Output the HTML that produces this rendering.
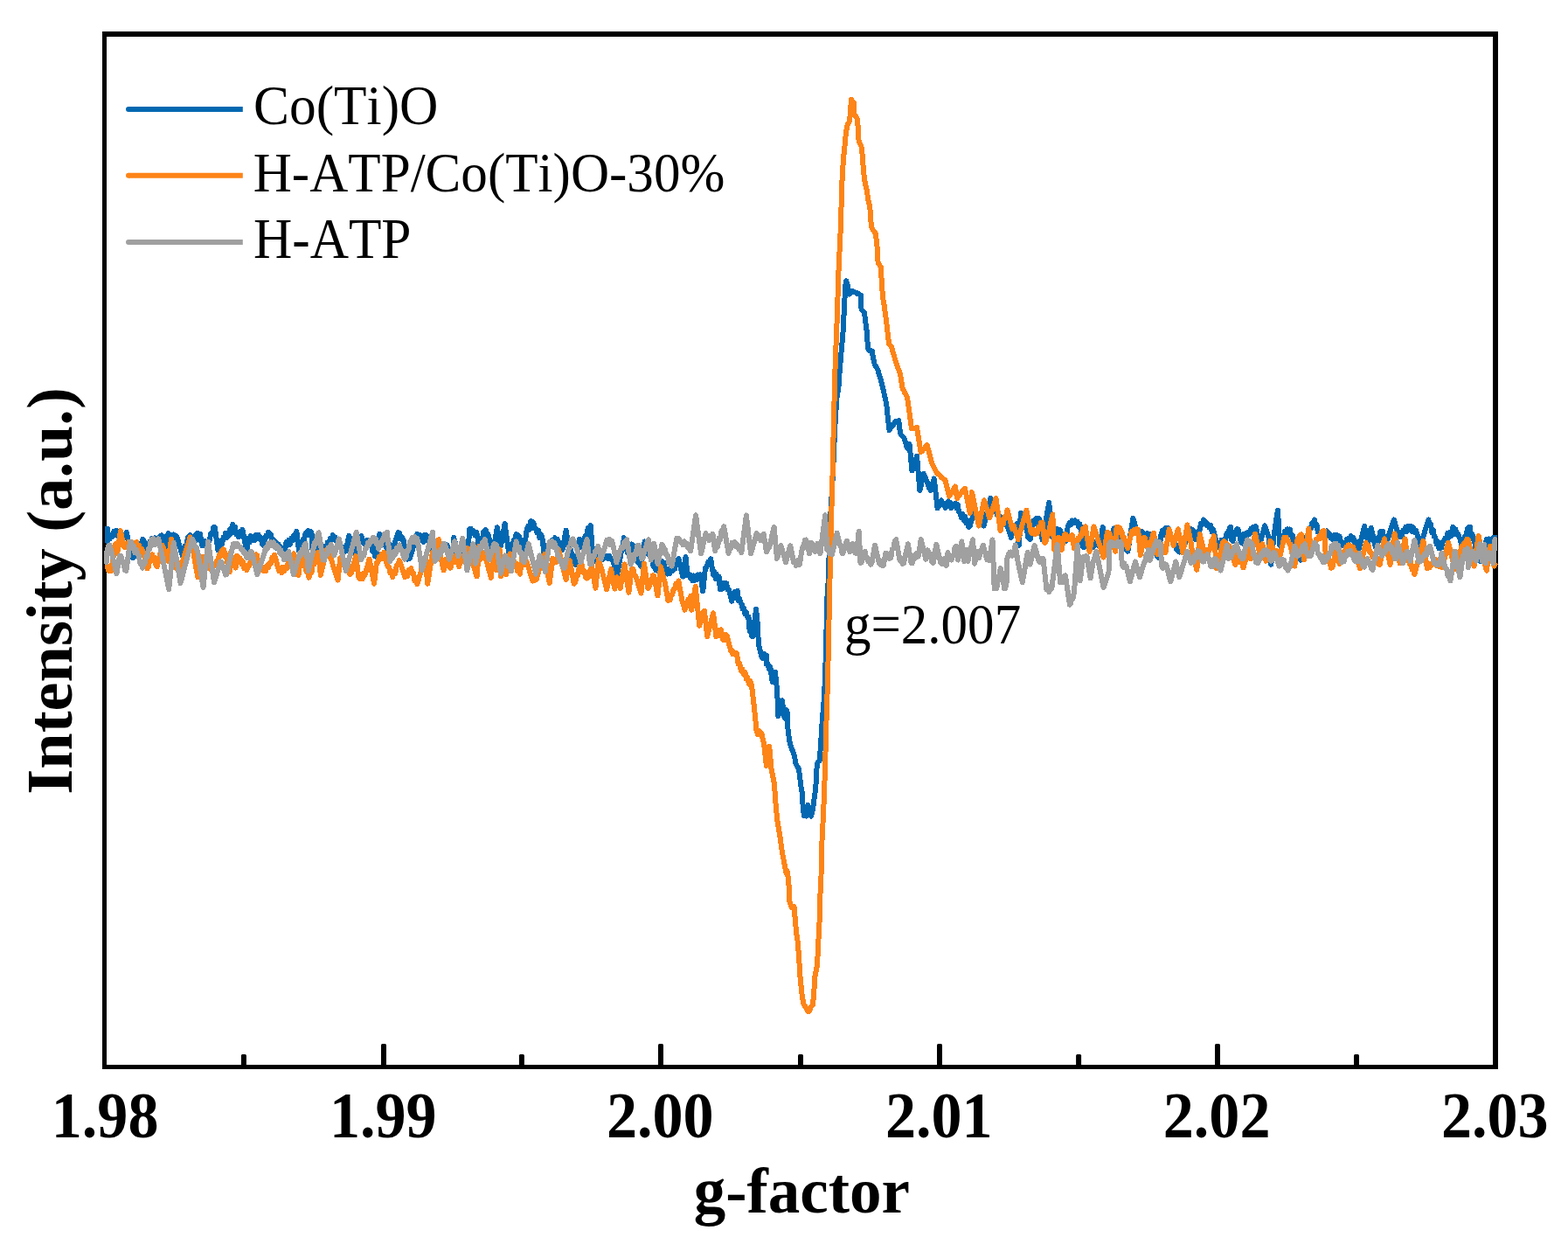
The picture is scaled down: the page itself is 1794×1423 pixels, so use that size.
<!DOCTYPE html>
<html><head><meta charset="utf-8"><style>
html,body{margin:0;padding:0;background:#fff;overflow:hidden}
svg{display:block}
text{font-family:"Liberation Serif","Times New Roman",serif;font-kerning:none;fill:#000}
</style></head><body>
<svg width="1794" height="1423" viewBox="0 0 1794 1423"><rect x="117" y="36" width="1597" height="6"/>
<rect x="117" y="1218" width="1597" height="5"/>
<rect x="117" y="36" width="5" height="1187"/>
<rect x="1708" y="36" width="6" height="1187"/>
<rect x="275.9" y="1206" width="6" height="14" rx="1.5"/>
<rect x="436.0" y="1194" width="6" height="26" rx="1.5"/>
<rect x="593.9" y="1206" width="6" height="14" rx="1.5"/>
<rect x="753.0" y="1194" width="6" height="26" rx="1.5"/>
<rect x="913.0" y="1206" width="6" height="14" rx="1.5"/>
<rect x="1072.0" y="1194" width="6" height="26" rx="1.5"/>
<rect x="1231.1" y="1206" width="6" height="14" rx="1.5"/>
<rect x="1390.0" y="1194" width="6" height="26" rx="1.5"/>
<rect x="1549.0" y="1206" width="6" height="14" rx="1.5"/>
<path d="M122.8 604.5 L123.2 619.0 L124.5 614.6 L125.8 616.2 L127.1 612.3 L128.6 614.1 L130.1 608.1 L131.6 610.9 L133.1 606.7 L134.4 612.2 L135.7 611.7 L137.1 618.9 L138.4 619.4 L140.0 618.0 L141.5 611.6 L143.1 612.9 L144.7 608.8 L147.5 622.2 L151.7 638.3 L153.1 637.2 L154.5 630.6 L155.9 634.1 L157.4 627.8 L158.8 627.6 L160.3 622.4 L161.8 625.6 L163.3 616.7 L164.7 619.0 L166.0 620.8 L167.2 628.5 L168.6 623.5 L170.0 627.4 L171.4 619.3 L172.8 621.9 L174.2 615.5 L175.6 618.3 L177.0 615.4 L178.4 619.4 L179.8 616.5 L181.2 619.4 L182.5 614.3 L183.7 618.3 L184.9 612.2 L186.2 613.7 L187.6 614.4 L189.0 623.5 L190.4 625.0 L191.1 612.7 L192.6 610.2 L194.1 614.9 L195.6 612.5 L197.1 616.1 L198.6 611.4 L200.0 617.5 L201.5 613.3 L203.0 615.8 L208.7 635.5 L210.2 634.2 L211.7 624.5 L213.3 624.9 L214.8 615.0 L216.3 614.4 L217.7 612.0 L219.1 618.2 L220.5 617.2 L221.9 619.0 L223.4 612.3 L224.8 617.8 L226.2 609.6 L227.6 614.0 L229.0 610.8 L231.1 624.2 L232.5 619.2 L233.9 624.1 L235.3 619.2 L236.7 624.3 L238.1 620.0 L239.7 618.3 L241.2 610.6 L242.7 611.2 L244.3 603.3 L245.8 603.1 L249.4 629.1 L250.9 628.9 L252.5 618.8 L254.1 621.9 L255.7 614.4 L256.9 615.8 L258.1 609.7 L259.4 615.2 L260.6 611.5 L262.0 612.6 L263.4 605.2 L264.8 609.6 L266.2 599.9 L267.6 602.1 L269.0 602.5 L270.4 611.4 L271.8 609.9 L273.2 614.4 L274.7 608.2 L276.1 611.9 L277.5 605.9 L282.4 631.2 L284.5 615.8 L285.7 620.4 L286.8 613.0 L288.0 617.2 L289.5 614.5 L291.0 618.4 L292.6 612.2 L294.1 616.1 L295.6 611.7 L297.1 613.7 L298.5 615.5 L300.0 622.2 L301.4 624.2 L302.8 621.7 L304.2 613.0 L305.6 614.2 L307.0 608.7 L308.4 613.2 L309.8 611.4 L311.3 620.1 L312.7 617.4 L314.1 621.4 L315.5 620.4 L316.9 627.4 L318.4 622.3 L319.8 631.4 L321.2 625.5 L322.6 632.9 L324.0 630.0 L325.4 634.0 L327.5 620.0 L328.9 623.2 L330.3 618.0 L331.7 622.8 L333.3 615.8 L334.8 618.5 L336.3 612.2 L337.9 612.9 L339.4 608.0 L342.2 631.2 L343.7 625.6 L345.1 626.4 L346.5 617.0 L347.9 618.2 L349.3 611.3 L350.7 608.7 L352.3 607.0 L353.8 612.4 L355.4 607.9 L357.0 611.5 L357.0 627.0 L358.5 631.1 L360.0 623.9 L361.4 630.0 L362.9 624.2 L364.4 630.6 L365.9 626.1 L367.3 631.4 L368.8 624.0 L370.3 631.5 L371.8 627.7 L373.3 628.7 L374.8 620.2 L376.3 622.4 L377.9 615.9 L379.4 617.9 L380.9 612.2 L382.3 615.6 L383.7 614.8 L385.1 620.0 L386.5 618.5 L387.9 624.4 L389.3 624.2 L390.9 627.1 L392.5 626.2 L394.1 630.6 L395.7 630.5 L399.2 612.9 L400.6 615.2 L402.0 622.8 L403.5 623.0 L404.9 631.9 L406.3 631.8 L411.9 613.6 L413.4 613.1 L414.8 620.4 L416.2 621.3 L417.6 622.8 L419.0 618.2 L420.4 622.3 L421.8 618.0 L423.2 619.2 L424.6 619.0 L426.0 630.4 L427.4 627.1 L428.8 635.9 L430.2 636.8 L434.4 610.8 L435.6 612.1 L436.8 617.9 L437.9 619.2 L439.4 622.7 L440.8 619.8 L442.2 626.8 L443.6 622.8 L445.0 627.0 L446.4 623.0 L447.8 631.2 L449.2 629.7 L455.5 609.0 L457.1 609.7 L458.7 616.6 L460.3 614.8 L461.8 618.5 L461.8 631.8 L463.2 636.0 L464.7 630.5 L466.1 639.8 L467.5 634.2 L468.9 638.9 L477.3 610.8 L478.7 614.5 L480.1 612.0 L481.5 617.7 L482.9 617.8 L484.2 619.9 L485.4 612.2 L486.6 617.1 L487.8 612.2 L489.2 618.2 L490.7 618.0 L492.1 627.4 L493.5 627.6 L495.0 631.4 L496.6 623.1 L498.1 630.0 L499.7 622.3 L501.3 629.0 L502.8 623.3 L504.4 627.5 L505.9 622.1 L507.5 625.3 L509.1 623.6 L510.3 625.9 L511.5 623.6 L512.7 628.7 L514.0 627.8 L517.5 640.4 L519.2 615.1 L523.1 629.2 L524.5 629.7 L525.9 640.8 L527.3 640.4 L528.7 640.6 L530.1 631.7 L531.5 637.6 L532.9 627.0 L534.4 631.0 L535.8 626.4 L537.2 605.3 L538.7 604.7 L540.2 609.8 L541.7 607.4 L543.3 612.3 L544.8 608.7 L546.3 613.0 L547.4 627.8 L548.8 627.6 L550.3 615.9 L551.8 618.2 L553.3 608.3 L554.7 607.4 L556.0 606.1 L557.2 613.4 L558.4 611.1 L559.7 616.5 L564.2 630.6 L568.8 603.2 L573.0 625.0 L577.6 599.0 L582.1 632.0 L583.5 633.0 L585.0 622.6 L586.4 626.7 L587.8 617.7 L589.2 619.2 L590.6 611.0 L592.0 611.6 L593.6 612.8 L595.1 622.0 L596.7 617.6 L598.3 627.5 L599.8 628.5 L602.6 606.7 L604.2 601.8 L605.8 605.8 L607.4 596.0 L609.0 596.9 L610.4 598.3 L611.8 604.8 L613.2 604.7 L614.6 609.5 L616.0 606.7 L617.4 615.2 L618.8 611.0 L620.2 613.7 L622.3 632.0 L623.9 633.6 L625.5 623.6 L627.1 628.8 L628.7 621.3 L630.2 624.3 L631.8 617.8 L633.4 618.5 L635.0 615.1 L636.4 621.6 L637.8 616.7 L639.2 624.9 L640.6 620.5 L642.0 629.4 L643.4 629.2 L647.6 606.7 L650.4 625.0 L651.8 632.3 L653.1 628.3 L654.5 637.3 L655.8 637.1 L657.2 644.6 L658.5 646.1 L663.1 616.5 L664.1 619.2 L665.2 625.7 L666.7 619.2 L668.2 620.6 L669.7 612.7 L671.2 613.2 L672.7 604.2 L674.2 606.9 L675.7 601.1 L677.8 628.5 L679.0 629.9 L680.2 639.4 L681.4 640.4 L683.0 643.8 L684.6 636.8 L686.1 642.6 L687.7 635.4 L689.3 640.3 L690.9 634.1 L692.5 637.5 L694.1 635.7 L695.7 639.1 L697.3 635.7 L698.9 639.5 L700.5 639.2 L706.1 657.5 L711.7 626.5 L712.8 624.5 L713.8 615.3 L718.0 632.2 L719.6 628.3 L721.2 630.6 L722.8 622.5 L724.4 623.7 L725.8 629.4 L727.2 635.9 L728.6 634.5 L730.0 643.1 L731.4 641.1 L732.8 647.6 L737.7 619.5 L739.1 627.0 L740.5 625.9 L741.9 634.2 L743.3 633.3 L744.7 639.2 L746.1 639.7 L747.5 647.8 L748.9 644.1 L750.4 652.2 L751.8 651.8 L753.2 653.6 L754.6 644.5 L756.0 649.3 L757.4 642.1 L758.8 643.4 L760.0 644.0 L761.1 652.7 L762.3 653.2 L763.7 656.5 L765.1 650.7 L766.5 656.0 L767.9 650.6 L769.3 653.2 L770.7 646.4 L772.1 650.9 L773.5 641.0 L775.0 646.0 L776.4 639.2 L781.3 659.6 L784.5 637.1 L786.7 658.5 L788.2 656.5 L789.7 661.3 L791.2 658.5 L792.4 664.4 L793.5 658.5 L794.6 664.1 L796.0 661.1 L797.3 663.0 L798.7 657.5 L800.0 660.1 L801.4 657.3 L804.2 676.5 L807.0 649.5 L808.5 648.9 L810.1 643.0 L811.6 645.1 L813.2 639.4 L816.0 657.3 L817.3 654.2 L818.7 662.1 L820.0 657.0 L821.4 662.5 L822.7 659.6 L823.9 674.2 L825.3 669.9 L826.7 673.6 L828.1 667.0 L829.5 669.7 L831.0 667.1 L832.5 674.6 L834.0 674.2 L837.3 687.7 L838.6 680.8 L839.9 684.5 L841.1 676.6 L842.4 676.5 L843.7 675.7 L844.9 686.9 L846.2 684.9 L847.5 690.0 L848.6 690.8 L849.7 696.7 L851.1 695.7 L852.4 702.5 L853.8 700.3 L855.1 706.0 L856.5 705.7 L857.6 721.4 L858.8 720.3 L859.9 727.2 L861.1 728.2 L865.1 696.7 L866.7 712.5 L867.9 737.2 L871.2 750.7 L872.6 753.3 L874.1 747.6 L875.5 751.1 L876.9 749.6 L876.9 759.7 L878.4 758.6 L879.9 765.0 L881.4 763.1 L883.6 780.0 L884.7 773.5 L885.9 773.8 L887.0 768.7 L889.2 791.2 L890.4 819.3 L894.9 801.3 L897.1 819.3 L898.2 821.6 L899.4 812.0 L900.5 813.7 L901.6 836.2 L903.9 851.2 L905.4 855.3 L906.8 858.7 L908.3 862.5 L909.5 868.1 L910.6 873.7 L911.7 875.8 L912.8 877.6 L914.0 879.4 L916.2 898.0 L917.6 906.0 L918.3 915.0 L918.7 924.0 L920.0 933.5 L921.2 933.0 L922.5 933.5 L924.2 921.0 L925.1 926.4 L926.0 931.0 L927.0 932.7 L928.0 933.5 L929.0 930.2 L930.0 925.0 L931.4 915.0 L932.8 905.0 L933.7 895.1 L934.4 881.0 L934.8 873.7 L936.2 871.5 L937.6 870.4 L938.7 856.9 L940.7 824.9 L942.6 802.4 L943.8 780.0 L944.9 746.2 L945.7 712.5 L946.0 690.0 L947.8 662.4 L948.8 628.7 L949.9 595.0 L951.3 572.5 L952.5 550.0 L953.8 523.7 L955.2 490.0 L957.3 456.2 L959.9 439.7 L960.6 425.0 L962.0 409.7 L962.8 399.6 L964.3 384.1 L965.1 368.6 L965.9 353.2 L966.7 337.7 L967.5 325.0 L968.1 321.1 L969.0 323.6 L969.8 326.2 L970.7 331.7 L971.6 336.6 L973.2 335.5 L974.8 333.1 L976.1 333.2 L977.4 334.0 L978.7 334.6 L979.8 334.9 L981.0 336.5 L982.1 336.1 L983.5 337.1 L984.9 337.5 L985.1 347.4 L985.6 354.3 L986.7 355.1 L987.9 356.3 L989.0 357.2 L989.8 364.1 L990.7 371.5 L991.7 378.9 L991.9 385.0 L993.4 399.6 L994.9 401.2 L996.4 400.8 L997.9 401.9 L999.0 409.7 L999.9 413.4 L1000.7 416.9 L1001.8 418.5 L1003.0 420.8 L1004.1 422.5 L1005.2 426.1 L1006.4 430.4 L1007.5 433.7 L1010.9 447.2 L1014.2 461.9 L1015.9 478.7 L1017.6 492.2 L1019.0 489.7 L1020.3 487.8 L1021.7 486.8 L1023.0 484.5 L1024.4 482.1 L1025.7 481.5 L1027.0 481.9 L1028.3 481.0 L1030.0 495.6 L1031.5 498.0 L1033.0 499.4 L1034.5 501.2 L1035.6 505.3 L1036.8 508.8 L1037.9 512.5 L1039.2 510.5 L1040.6 508.1 L1043.4 538.5 L1049.0 521.6 L1052.4 561.0 L1056.9 541.9 L1058.5 545.9 L1060.0 550.0 L1061.6 553.0 L1063.1 558.1 L1064.7 561.0 L1068.7 547.5 L1072.6 581.2 L1074.1 576.1 L1075.6 577.9 L1077.1 572.2 L1078.6 576.9 L1080.1 576.0 L1081.6 581.2 L1082.7 577.3 L1083.9 578.0 L1085.0 573.4 L1086.1 577.2 L1087.3 575.2 L1088.4 581.2 L1089.9 576.5 L1091.4 579.2 L1092.9 575.6 L1094.3 581.0 L1095.7 577.2 L1097.1 585.6 L1098.5 586.9 L1099.9 592.4 L1101.3 588.1 L1102.7 595.1 L1104.1 590.5 L1105.5 598.4 L1106.9 595.1 L1108.3 602.9 L1109.7 601.5 L1114.2 586.9 L1115.6 584.6 L1117.0 592.8 L1118.4 588.7 L1119.8 597.5 L1121.3 592.9 L1122.7 600.3 L1124.1 597.4 L1125.5 601.5 L1133.4 570.0 L1134.8 574.7 L1136.3 575.1 L1137.7 581.4 L1139.1 579.9 L1140.6 588.6 L1142.0 590.0 L1143.6 593.0 L1145.1 591.2 L1146.7 597.8 L1148.3 591.6 L1149.8 600.0 L1151.4 598.1 L1157.0 615.0 L1158.5 609.0 L1160.0 609.1 L1161.5 601.2 L1163.0 599.4 L1165.9 623.9 L1167.9 586.6 L1169.3 588.4 L1170.8 597.1 L1172.3 597.3 L1173.8 604.3 L1175.0 605.5 L1176.2 614.8 L1177.5 609.7 L1178.7 617.1 L1182.6 595.4 L1184.0 598.1 L1185.4 593.1 L1186.8 598.9 L1188.1 592.5 L1189.5 594.4 L1192.5 617.1 L1200.3 574.8 L1203.3 614.1 L1204.9 614.8 L1206.4 609.8 L1208.0 611.7 L1209.6 605.2 L1211.2 606.2 L1212.7 606.1 L1214.3 613.2 L1215.9 611.2 L1217.5 617.7 L1219.0 619.0 L1222.0 601.3 L1223.6 598.1 L1225.1 600.4 L1226.7 595.4 L1228.3 597.9 L1229.9 595.4 L1231.2 598.5 L1232.6 596.8 L1234.0 602.6 L1235.4 599.5 L1236.7 604.3 L1238.7 624.9 L1239.9 626.2 L1241.2 618.5 L1242.4 623.7 L1243.6 619.0 L1245.0 622.9 L1246.4 616.3 L1247.8 623.1 L1249.2 619.1 L1250.7 626.0 L1252.1 620.8 L1253.5 623.0 L1254.8 618.4 L1256.1 623.8 L1257.4 618.2 L1258.7 622.1 L1260.1 617.2 L1261.7 602.9 L1265.1 629.0 L1266.7 629.3 L1268.3 618.7 L1269.8 621.6 L1271.4 610.9 L1273.0 612.6 L1274.5 604.6 L1276.1 603.7 L1277.4 603.7 L1278.8 612.8 L1280.1 608.2 L1281.5 618.2 L1282.8 617.2 L1284.3 622.9 L1285.9 618.7 L1287.4 628.6 L1288.9 624.7 L1290.4 630.7 L1296.3 592.8 L1302.2 612.2 L1303.5 609.4 L1304.8 611.8 L1306.0 608.0 L1307.3 608.8 L1308.1 609.9 L1309.0 615.5 L1310.3 613.2 L1311.7 617.6 L1313.0 610.1 L1314.4 615.2 L1315.7 611.3 L1317.4 624.0 L1318.9 623.6 L1320.4 632.6 L1322.0 629.4 L1323.5 636.0 L1325.0 637.5 L1328.4 612.2 L1329.9 606.9 L1331.4 612.2 L1332.9 604.4 L1334.4 608.2 L1336.0 603.7 L1337.4 610.3 L1338.9 609.1 L1340.4 617.3 L1341.9 617.2 L1343.3 622.3 L1344.8 622.1 L1346.3 628.7 L1347.8 629.9 L1349.3 631.5 L1350.8 624.4 L1352.3 627.9 L1353.9 618.5 L1355.4 623.5 L1356.9 616.7 L1358.4 617.2 L1359.7 611.6 L1361.0 614.6 L1362.2 604.9 L1363.5 605.4 L1364.9 606.3 L1366.3 616.4 L1367.7 617.2 L1369.3 614.9 L1370.8 608.0 L1372.3 607.8 L1373.9 598.6 L1375.4 600.4 L1377.0 594.5 L1378.3 599.2 L1379.7 596.9 L1381.0 601.4 L1382.4 599.9 L1383.7 603.7 L1385.1 601.1 L1386.5 608.1 L1387.9 605.4 L1393.0 625.7 L1394.5 620.7 L1396.0 624.4 L1397.6 617.8 L1399.1 621.5 L1400.6 617.2 L1402.1 617.0 L1403.6 609.9 L1405.2 612.5 L1406.7 604.0 L1408.2 602.9 L1409.0 617.2 L1410.5 619.0 L1412.1 608.5 L1413.6 611.4 L1415.1 605.2 L1416.6 605.4 L1420.0 620.6 L1421.5 621.5 L1422.9 611.0 L1424.4 614.9 L1425.9 609.6 L1427.3 611.9 L1428.7 608.4 L1430.1 610.5 L1431.5 604.8 L1432.8 608.9 L1434.2 602.5 L1435.5 605.4 L1436.9 602.0 L1441.1 624.0 L1447.0 601.2 L1447.5 602.0 L1451.7 615.5 L1454.3 645.9 L1457.6 612.2 L1461.9 583.5 L1464.4 624.0 L1465.8 623.7 L1467.2 613.7 L1468.6 616.3 L1470.0 607.9 L1471.4 611.2 L1472.8 605.4 L1474.3 611.0 L1475.8 605.5 L1477.3 612.4 L1478.7 612.2 L1480.0 620.3 L1481.3 620.6 L1482.6 627.3 L1484.0 627.4 L1485.3 634.0 L1486.7 634.1 L1488.0 640.8 L1495.6 612.2 L1497.0 611.8 L1498.4 604.2 L1499.8 604.9 L1501.2 598.1 L1502.6 599.6 L1504.0 594.5 L1505.3 601.8 L1506.6 600.4 L1507.8 608.7 L1509.1 608.8 L1510.6 613.4 L1512.0 608.9 L1513.5 615.3 L1515.0 612.2 L1516.5 615.1 L1517.9 607.4 L1519.4 613.0 L1520.9 610.5 L1522.3 615.0 L1523.7 612.6 L1525.1 617.2 L1526.6 612.0 L1528.1 618.1 L1529.5 611.8 L1531.0 613.0 L1532.5 613.3 L1534.0 620.5 L1535.4 619.9 L1536.9 624.0 L1538.2 620.8 L1539.5 624.3 L1540.8 616.9 L1542.1 621.2 L1543.4 615.5 L1544.6 617.3 L1545.9 613.1 L1547.2 617.6 L1548.4 614.7 L1549.9 620.0 L1551.4 619.5 L1552.9 629.5 L1554.3 629.0 L1561.1 602.0 L1565.3 620.6 L1568.7 603.7 L1573.7 625.7 L1575.1 626.1 L1576.4 615.3 L1577.8 618.6 L1579.1 608.2 L1580.5 608.8 L1582.0 607.7 L1583.4 617.5 L1584.9 614.3 L1586.4 620.6 L1594.8 594.5 L1600.7 613.9 L1602.2 611.0 L1603.7 614.3 L1605.1 606.9 L1606.6 607.9 L1608.1 603.0 L1609.6 608.1 L1611.0 601.5 L1612.5 602.0 L1614.0 601.7 L1615.6 608.0 L1617.1 603.5 L1618.6 608.7 L1620.1 607.1 L1625.2 624.0 L1634.4 594.5 L1635.8 600.6 L1637.1 600.1 L1638.4 609.5 L1639.7 605.8 L1641.0 613.9 L1642.3 614.6 L1643.7 622.4 L1645.0 619.8 L1646.4 627.5 L1647.7 627.3 L1649.1 626.9 L1650.5 620.0 L1651.9 618.9 L1653.4 615.5 L1654.9 617.4 L1656.4 609.9 L1657.8 614.9 L1659.3 608.6 L1660.8 612.7 L1662.3 602.9 L1663.7 605.4 L1665.2 605.2 L1666.7 611.7 L1668.2 610.6 L1669.6 614.7 L1670.8 616.3 L1671.9 623.1 L1673.0 624.0 L1674.5 621.2 L1676.0 613.6 L1677.6 613.3 L1679.1 604.2 L1680.6 602.9 L1681.9 602.6 L1683.1 613.5 L1684.4 611.2 L1685.7 617.2 L1687.1 619.0 L1688.5 628.4 L1689.9 627.5 L1691.3 636.3 L1692.7 636.9 L1694.1 642.5 L1700.8 617.2 L1702.1 620.9 L1703.4 616.5 L1704.6 623.9 L1705.9 624.0 L1707.4 623.6 L1709.0 614.7 L1710.5 614.7" fill="none" stroke="#0368b1" stroke-width="6.0" stroke-linejoin="round" stroke-linecap="round" shape-rendering="crispEdges"/>
<path d="M122.8 648.0 L124.2 652.9 L125.7 649.9 L127.1 653.1 L132.1 622.2 L133.1 629.5 L134.2 633.4 L138.0 607.1 L141.2 625.0 L142.7 626.2 L144.2 622.2 L145.6 625.9 L147.1 620.0 L148.6 626.1 L150.1 619.5 L151.6 623.3 L153.1 620.8 L154.5 621.5 L156.1 620.2 L157.6 627.7 L159.1 623.8 L160.6 630.0 L162.2 628.1 L163.7 630.6 L168.6 650.3 L170.0 648.2 L171.4 638.9 L172.8 641.2 L174.2 634.1 L175.6 640.8 L177.0 637.7 L178.4 646.3 L179.8 648.2 L185.5 623.6 L186.9 626.0 L188.3 632.3 L189.7 632.2 L191.1 640.9 L192.5 641.8 L196.0 616.5 L199.5 646.1 L201.1 649.7 L202.6 643.8 L204.2 649.5 L205.7 644.3 L207.2 647.5 L217.7 614.4 L221.2 631.2 L226.2 660.0 L231.1 640.4 L232.3 637.0 L233.4 640.4 L234.6 636.8 L235.8 641.9 L236.9 641.8 L238.1 648.8 L239.5 646.9 L240.9 651.4 L242.3 645.1 L243.7 649.1 L245.1 645.7 L246.5 646.7 L247.9 642.0 L249.4 643.2 L250.8 634.8 L252.2 635.8 L253.6 630.3 L255.0 628.4 L256.4 629.4 L257.8 637.4 L259.2 638.2 L262.7 654.4 L263.4 632.6 L265.0 638.8 L266.6 639.5 L268.2 647.8 L269.7 649.5 L270.4 636.1 L271.8 636.2 L273.2 638.2 L274.8 638.8 L276.3 645.1 L277.8 641.9 L279.3 650.2 L280.9 646.7 L282.4 652.3 L284.0 646.6 L285.5 646.9 L287.1 640.1 L288.7 638.2 L290.1 634.1 L291.5 639.6 L292.9 634.4 L294.3 635.4 L294.3 646.7 L295.7 648.6 L297.1 646.2 L298.5 652.1 L300.0 648.2 L301.4 652.8 L302.8 649.4 L304.2 653.0 L305.6 647.1 L307.0 649.4 L308.4 644.1 L309.9 644.4 L311.3 637.9 L312.7 640.0 L314.1 634.7 L319.1 653.0 L320.6 651.0 L322.1 655.1 L323.6 648.8 L325.1 653.4 L326.7 649.1 L328.2 650.2 L329.7 643.4 L331.3 645.2 L332.8 637.0 L334.4 638.3 L335.9 633.3 L337.3 646.7 L338.7 648.9 L340.1 657.1 L341.5 657.9 L344.4 634.7 L345.9 637.3 L347.4 646.8 L348.9 645.5 L350.4 653.5 L352.0 654.8 L353.5 660.7 L355.0 654.6 L356.5 655.2 L358.0 645.0 L359.5 645.6 L361.0 638.2 L362.5 637.6 L364.0 631.9 L366.8 657.9 L373.9 628.4 L375.1 634.7 L376.3 632.7 L377.6 638.0 L378.8 639.7 L386.5 663.5 L389.3 638.2 L390.9 641.6 L392.5 640.7 L394.1 648.1 L395.7 643.8 L397.2 652.1 L398.8 647.9 L400.4 656.9 L402.0 655.8 L407.0 636.1 L410.5 660.7 L411.9 661.9 L413.4 658.1 L414.8 662.3 L416.2 655.5 L417.6 657.8 L422.5 639.6 L428.1 667.7 L430.9 643.8 L432.3 642.9 L433.7 637.1 L435.1 639.8 L436.5 633.9 L437.9 635.7 L439.4 631.8 L440.8 639.2 L442.2 643.8 L443.6 648.0 L445.0 648.6 L446.4 655.4 L447.8 653.3 L449.2 660.0 L450.7 654.8 L452.3 655.8 L453.8 647.0 L455.4 646.7 L456.9 641.0 L463.2 660.0 L464.7 654.9 L466.1 659.1 L467.5 652.0 L468.9 653.2 L470.3 650.1 L471.7 656.0 L473.1 655.5 L474.5 664.4 L475.9 663.2 L477.3 668.4 L486.4 637.5 L489.2 667.7 L494.9 631.8 L496.3 630.8 L497.7 622.8 L499.2 624.2 L500.6 618.1 L502.0 617.2 L502.7 630.6 L507.6 652.4 L509.1 640.4 L510.6 645.7 L512.2 642.1 L513.8 648.4 L515.4 649.6 L519.6 636.2 L521.0 638.1 L522.4 643.3 L523.8 641.9 L525.2 648.2 L526.6 642.3 L528.0 642.6 L529.4 635.5 L530.8 636.7 L532.2 629.5 L533.7 630.9 L535.1 627.1 L545.6 659.4 L548.4 625.0 L549.8 639.7 L551.2 633.8 L552.6 637.1 L554.0 632.0 L561.8 660.8 L564.6 633.4 L568.1 652.4 L571.6 628.5 L573.0 659.4 L574.4 653.7 L575.8 654.1 L577.2 645.5 L578.6 643.2 L579.3 657.3 L583.5 633.4 L585.0 636.2 L586.4 640.8 L587.8 641.0 L589.2 647.8 L590.6 644.6 L592.1 653.4 L593.5 650.3 L594.9 656.6 L597.0 639.0 L598.4 641.8 L599.8 640.8 L601.2 646.3 L602.6 642.4 L604.1 647.5 L608.3 660.8 L609.7 664.6 L611.1 659.6 L612.5 663.5 L613.9 662.2 L618.8 644.7 L620.2 639.1 L621.6 639.9 L623.0 634.1 L628.7 667.1 L632.2 639.0 L633.6 643.8 L635.0 640.4 L636.4 643.2 L639.2 628.5 L643.4 646.8 L647.6 662.9 L651.8 641.1 L656.8 667.8 L658.3 666.5 L659.9 656.3 L661.4 657.8 L662.9 647.5 L664.5 646.1 L665.9 646.6 L667.3 654.1 L668.7 653.5 L670.1 660.3 L671.5 661.5 L672.9 661.0 L674.3 653.3 L675.7 652.5 L677.1 647.5 L681.4 672.8 L684.9 639.7 L688.5 651.8 L694.1 674.3 L699.1 651.1 L703.3 673.6 L706.1 660.3 L709.6 672.9 L714.5 645.5 L719.4 677.8 L722.9 650.4 L724.4 650.7 L725.8 658.4 L727.2 658.8 L728.6 663.1 L733.5 678.5 L737.0 644.8 L741.2 672.9 L742.6 671.2 L744.0 664.9 L745.4 666.3 L746.8 658.2 L748.2 658.9 L752.5 681.4 L756.0 648.3 L760.9 667.3 L764.4 687.0 L765.6 681.7 L766.8 686.2 L767.9 680.7 L769.3 679.6 L770.7 674.1 L772.1 673.8 L773.5 667.6 L775.0 670.0 L776.4 664.5 L780.6 688.4 L782.0 691.0 L783.4 697.8 L784.7 693.1 L786.1 693.6 L787.4 685.8 L788.8 687.9 L790.1 682.1 L791.2 697.8 L795.7 670.8 L800.2 715.8 L801.6 708.7 L803.0 710.5 L804.5 700.5 L805.9 698.9 L809.2 728.2 L816.0 701.2 L819.4 728.2 L820.8 727.5 L822.2 721.1 L823.6 724.0 L825.0 720.3 L826.1 728.3 L827.2 731.6 L828.7 732.0 L830.2 725.7 L831.7 727.1 L835.1 740.5 L836.2 744.7 L837.3 744.2 L838.5 748.4 L840.0 746.4 L841.5 749.1 L843.0 747.3 L844.7 759.7 L846.2 758.9 L847.7 767.1 L849.3 765.3 L850.8 771.6 L852.3 768.6 L853.9 776.8 L855.4 775.4 L856.9 782.5 L858.5 779.3 L860.0 784.4 L862.2 802.4 L864.5 824.9 L865.6 836.2 L867.0 840.2 L868.4 836.0 L869.8 840.0 L871.2 838.4 L874.1 851.2 L876.9 876.0 L880.2 853.5 L882.5 879.4 L885.9 896.2 L887.5 918.7 L889.2 937.8 L892.6 958.1 L894.9 974.9 L898.2 991.8 L899.3 998.5 L900.4 995.9 L901.5 1002.6 L902.8 1015.3 L903.4 1031.7 L904.7 1035.1 L905.9 1038.1 L907.2 1037.3 L908.5 1036.8 L909.7 1050.7 L911.0 1065.9 L912.9 1078.5 L914.2 1097.5 L915.4 1116.5 L917.3 1135.5 L919.2 1148.1 L920.6 1150.2 L922.1 1152.8 L923.5 1155.4 L924.9 1157.0 L926.2 1156.6 L927.4 1152.0 L928.7 1150.6 L930.0 1149.4 L931.2 1135.5 L932.5 1116.5 L935.0 1103.8 L936.3 1078.5 L937.6 1053.2 L938.2 1027.9 L939.5 1002.6 L939.8 974.9 L941.0 952.4 L942.6 918.7 L943.8 885.0 L945.5 824.9 L946.6 791.2 L947.5 757.5 L948.3 723.7 L948.8 690.0 L949.1 673.7 L950.3 640.0 L951.1 606.2 L951.8 559.7 L952.0 572.5 L952.9 523.7 L954.1 478.7 L954.8 445.0 L955.9 409.7 L957.4 373.7 L958.5 340.0 L959.4 311.9 L960.7 283.7 L961.9 259.6 L962.1 240.4 L962.8 234.8 L963.0 212.4 L963.5 206.7 L964.1 195.5 L965.0 180.9 L966.1 171.9 L966.9 161.8 L968.0 151.7 L969.2 144.9 L970.4 141.3 L971.6 139.3 L972.5 133.7 L972.9 128.1 L974.0 113.5 L975.5 116.6 L977.0 118.0 L977.6 131.5 L979.0 132.7 L980.4 134.8 L981.7 144.9 L982.6 161.8 L984.0 164.7 L985.4 167.4 L986.9 178.7 L987.9 195.5 L989.4 206.7 L990.5 212.1 L991.6 216.9 L993.5 229.2 L994.5 233.4 L995.6 240.4 L996.9 259.6 L997.9 261.2 L999.2 263.7 L1000.5 265.5 L1001.8 266.9 L1003.5 281.5 L1004.6 300.6 L1005.7 302.2 L1006.9 304.0 L1008.0 306.2 L1008.6 319.7 L1010.0 340.0 L1011.0 345.4 L1011.9 351.2 L1014.2 368.1 L1016.1 385.0 L1017.0 392.9 L1018.4 394.8 L1019.8 396.2 L1023.7 409.7 L1024.8 413.4 L1026.0 416.9 L1027.3 421.1 L1028.7 423.7 L1030.0 428.1 L1032.8 445.0 L1034.1 446.7 L1035.3 449.5 L1036.6 451.8 L1037.9 454.0 L1040.7 473.1 L1042.9 490.0 L1044.4 489.3 L1046.0 490.3 L1047.5 489.5 L1049.0 489.0 L1053.5 517.1 L1055.0 516.0 L1056.4 514.2 L1057.9 513.4 L1059.3 510.6 L1060.8 509.2 L1066.4 530.6 L1068.0 533.4 L1069.5 536.7 L1071.0 539.4 L1072.6 541.9 L1074.1 542.4 L1075.6 544.2 L1077.1 546.1 L1078.6 547.3 L1080.1 548.2 L1081.6 549.7 L1086.1 567.7 L1087.5 564.9 L1088.8 563.1 L1090.2 561.5 L1091.5 559.2 L1092.9 556.5 L1095.1 570.0 L1096.6 568.0 L1098.1 565.7 L1099.6 564.1 L1101.1 561.4 L1102.6 561.2 L1104.1 558.7 L1109.7 586.9 L1112.0 563.2 L1119.9 601.5 L1126.0 572.2 L1132.2 592.5 L1139.5 570.0 L1144.6 607.1 L1146.2 598.9 L1147.8 599.6 L1149.3 591.4 L1150.9 591.0 L1152.5 583.5 L1158.1 604.9 L1159.0 601.6 L1160.0 601.3 L1164.9 617.1 L1174.3 583.6 L1179.7 609.2 L1181.2 610.2 L1182.6 605.9 L1184.1 611.3 L1185.6 609.2 L1187.0 609.9 L1188.3 602.5 L1189.7 605.3 L1191.1 597.6 L1192.5 597.4 L1195.4 621.0 L1196.7 619.1 L1198.0 613.4 L1199.4 611.2 L1204.3 588.5 L1206.2 628.9 L1207.5 623.0 L1208.7 624.6 L1209.9 615.3 L1211.2 615.1 L1214.6 628.9 L1218.0 611.2 L1219.3 611.4 L1220.5 616.7 L1221.7 613.7 L1223.0 617.1 L1224.3 613.2 L1225.6 615.1 L1226.9 612.1 L1228.9 626.9 L1230.3 622.5 L1231.8 623.8 L1233.3 615.5 L1234.8 616.1 L1236.1 612.1 L1237.5 612.8 L1238.9 604.8 L1240.3 608.5 L1241.7 602.3 L1246.6 630.8 L1251.5 602.3 L1262.6 637.5 L1266.8 608.8 L1267.9 611.4 L1269.1 609.7 L1270.2 612.2 L1276.1 630.7 L1276.9 606.3 L1278.2 602.7 L1279.5 609.3 L1280.7 603.4 L1282.0 605.4 L1283.4 607.9 L1284.8 616.0 L1286.2 614.4 L1287.6 623.3 L1289.0 621.1 L1290.4 627.3 L1294.6 607.9 L1296.2 610.7 L1297.7 605.9 L1299.2 609.9 L1300.7 605.0 L1302.2 606.3 L1304.8 634.9 L1309.0 614.7 L1310.2 616.3 L1311.5 625.0 L1312.8 622.4 L1314.0 629.0 L1319.9 609.6 L1324.1 634.1 L1325.6 628.7 L1327.0 627.8 L1328.4 622.3 L1329.6 626.8 L1330.9 625.0 L1332.2 631.8 L1333.4 632.4 L1337.6 605.4 L1342.7 624.0 L1347.8 605.4 L1353.4 632.4 L1358.4 600.4 L1362.6 620.6 L1363.5 627.4 L1364.3 631.6 L1369.4 651.8 L1372.8 611.3 L1377.0 629.0 L1378.3 628.5 L1379.5 634.0 L1380.8 628.9 L1382.0 633.2 L1383.4 628.1 L1384.7 627.6 L1386.1 618.2 L1387.4 618.2 L1388.8 613.0 L1392.2 650.1 L1395.5 637.5 L1398.9 620.6 L1400.5 618.8 L1402.0 624.4 L1403.5 621.9 L1405.1 628.0 L1406.6 624.4 L1408.2 628.2 L1413.2 645.9 L1414.4 643.7 L1415.5 636.0 L1416.6 634.1 L1418.1 635.4 L1419.6 643.7 L1421.0 642.8 L1422.5 649.3 L1429.3 627.3 L1430.1 635.4 L1431.0 639.1 L1436.0 610.5 L1441.1 632.4 L1442.2 631.1 L1443.3 624.6 L1444.4 622.3 L1448.4 641.7 L1453.4 618.9 L1454.8 620.3 L1456.2 629.0 L1457.6 630.7 L1459.0 633.3 L1460.3 629.8 L1461.7 636.7 L1463.0 632.6 L1464.4 635.8 L1469.5 614.7 L1470.6 617.3 L1471.7 614.8 L1472.8 618.1 L1474.0 618.2 L1475.1 622.2 L1476.2 622.3 L1481.3 647.6 L1484.6 616.4 L1486.0 616.8 L1487.4 611.8 L1488.9 611.3 L1492.2 640.0 L1497.3 604.6 L1499.8 629.0 L1501.3 628.8 L1502.8 622.0 L1504.4 623.0 L1505.9 617.0 L1507.4 617.2 L1508.9 614.0 L1510.4 616.0 L1512.0 608.2 L1513.5 611.4 L1515.0 607.1 L1516.7 634.1 L1518.2 636.0 L1519.7 642.4 L1521.2 641.3 L1522.8 649.6 L1524.3 649.3 L1528.5 630.7 L1532.7 645.1 L1534.0 642.8 L1535.2 634.7 L1536.5 637.8 L1537.8 630.7 L1539.1 632.5 L1540.3 625.7 L1541.6 629.2 L1542.9 623.2 L1544.2 625.7 L1545.6 624.6 L1546.9 631.4 L1548.3 625.9 L1549.6 631.8 L1551.0 631.6 L1556.0 650.1 L1562.8 620.6 L1564.3 626.9 L1565.8 624.0 L1567.3 631.9 L1568.8 632.2 L1570.4 637.5 L1571.8 636.0 L1573.2 641.7 L1574.6 638.4 L1576.0 644.8 L1577.4 641.5 L1578.8 645.9 L1583.9 616.4 L1590.6 645.9 L1595.7 610.5 L1601.6 644.2 L1607.5 616.4 L1610.0 635.8 L1611.4 637.9 L1612.8 645.1 L1614.2 643.0 L1615.6 651.4 L1617.0 651.7 L1618.4 656.9 L1628.5 618.9 L1632.8 650.1 L1634.1 646.6 L1635.5 649.4 L1636.9 645.2 L1638.2 646.5 L1639.6 642.4 L1641.0 642.5 L1642.5 640.3 L1644.1 647.5 L1645.6 642.7 L1647.1 648.4 L1648.7 645.2 L1650.2 649.3 L1657.0 620.6 L1664.6 651.0 L1669.6 630.7 L1671.1 630.1 L1672.5 624.5 L1674.0 627.5 L1675.4 621.1 L1676.9 624.3 L1678.3 616.8 L1679.8 617.2 L1686.5 647.6 L1691.6 613.0 L1695.8 632.4 L1700.8 652.6 L1705.1 624.8 L1709.3 647.6 L1710.5 645.9" fill="none" stroke="#fd8417" stroke-width="6.0" stroke-linejoin="round" stroke-linecap="round" shape-rendering="crispEdges"/>
<path d="M121.8 643.0 L122.5 630.0 L124.0 624.3 L125.5 623.5 L133.5 656.2 L137.0 635.5 L138.4 635.8 L139.9 643.8 L141.4 642.6 L142.9 652.1 L144.4 653.1 L148.9 620.1 L150.3 620.3 L151.7 627.5 L153.1 625.1 L154.5 632.4 L155.9 628.7 L157.4 633.4 L158.8 635.5 L160.2 644.4 L161.6 643.4 L163.0 649.6 L164.4 644.0 L165.8 644.3 L167.2 636.2 L168.6 636.3 L170.0 627.5 L171.4 627.7 L172.8 617.5 L174.2 616.9 L175.6 616.2 L177.0 623.1 L178.4 622.2 L179.8 621.0 L181.2 616.2 L185.5 636.2 L193.2 674.2 L198.8 620.8 L206.5 667.1 L219.8 616.5 L221.4 619.1 L223.0 624.9 L224.6 626.2 L226.2 631.2 L232.5 672.0 L238.1 620.0 L245.1 666.4 L252.2 642.5 L253.6 642.9 L255.0 650.4 L256.4 649.0 L257.8 657.5 L259.2 657.2 L266.9 622.1 L268.5 621.6 L270.1 625.4 L271.7 622.1 L273.2 625.6 L274.7 625.5 L276.1 628.5 L277.5 628.4 L279.0 632.8 L280.6 632.1 L282.2 637.7 L283.8 638.2 L285.2 637.5 L286.6 631.1 L288.0 631.2 L294.3 657.2 L302.8 631.2 L304.2 626.4 L305.6 628.0 L307.1 621.5 L308.5 621.7 L310.0 620.2 L311.6 624.4 L313.1 620.3 L314.6 625.9 L316.1 623.6 L317.6 625.6 L318.9 626.6 L320.1 632.8 L321.3 629.3 L322.6 634.7 L323.7 633.4 L324.9 640.0 L326.1 639.7 L327.5 638.5 L328.9 633.0 L330.3 631.2 L335.9 657.2 L341.5 638.2 L342.9 632.9 L344.4 635.3 L345.8 628.3 L347.2 630.1 L348.6 622.7 L350.0 622.1 L352.8 653.0 L358.4 628.4 L360.0 620.3 L361.6 621.8 L363.2 612.6 L364.7 609.4 L369.7 640.4 L371.2 640.7 L372.7 633.4 L374.2 633.9 L375.7 626.6 L377.3 627.3 L378.8 622.8 L382.3 635.4 L387.9 616.5 L395.7 653.0 L407.7 608.7 L413.4 640.3 L414.9 635.2 L416.4 635.4 L418.0 627.4 L419.5 626.9 L421.1 620.6 L422.5 623.1 L423.9 617.6 L425.3 619.6 L426.7 614.8 L428.1 618.8 L429.5 615.7 L430.7 622.3 L431.9 620.6 L433.0 627.6 L434.4 623.5 L435.8 624.0 L437.2 617.7 L438.7 617.9 L440.1 610.8 L441.5 614.3 L442.9 608.7 L446.4 642.4 L447.9 636.9 L449.4 638.0 L450.9 631.1 L452.4 634.4 L453.9 626.7 L455.4 629.0 L456.9 623.4 L458.5 629.6 L460.1 629.9 L461.7 636.8 L463.2 639.6 L464.7 636.9 L466.1 630.0 L467.5 628.8 L468.9 619.8 L470.3 618.5 L471.7 615.2 L473.1 620.5 L474.5 614.0 L475.9 617.9 L477.3 615.7 L482.9 652.2 L494.9 608.7 L497.8 641.8 L499.2 637.1 L500.6 639.2 L502.0 631.8 L503.4 634.7 L504.8 628.3 L506.2 630.2 L507.6 621.8 L509.1 622.9 L514.0 639.7 L520.3 619.4 L524.5 636.2 L529.4 615.8 L534.4 652.4 L541.4 622.2 L544.2 644.7 L547.7 629.2 L549.1 625.3 L550.5 627.6 L551.9 621.0 L553.3 621.3 L554.7 617.2 L559.7 640.4 L565.3 622.2 L566.7 624.5 L568.1 623.6 L573.0 655.9 L577.9 635.5 L579.3 641.9 L580.7 639.2 L582.1 648.9 L583.5 647.8 L585.0 653.1 L590.6 619.4 L592.1 626.5 L593.7 625.5 L595.2 632.9 L596.7 632.0 L598.3 641.8 L599.8 643.2 L604.8 622.2 L613.2 656.6 L617.4 635.5 L619.0 637.4 L620.6 647.3 L622.2 645.8 L623.7 653.8 L628.7 620.1 L630.1 623.2 L631.5 618.9 L632.9 625.8 L634.3 620.8 L635.7 625.0 L636.8 626.6 L638.0 635.3 L639.2 636.2 L640.8 642.2 L642.4 641.5 L643.9 648.3 L645.5 650.3 L649.7 632.0 L651.1 625.6 L652.5 625.5 L653.9 617.1 L655.4 616.5 L656.6 618.3 L657.8 623.9 L659.0 624.8 L660.3 629.2 L664.5 643.2 L671.5 617.2 L675.0 645.4 L676.6 645.3 L678.1 636.7 L679.6 636.5 L681.1 630.7 L682.6 629.5 L684.2 625.0 L687.8 639.2 L694.5 617.8 L695.8 621.4 L697.2 617.0 L698.5 623.2 L699.8 618.6 L701.2 622.3 L705.4 643.4 L709.6 629.4 L711.1 625.8 L712.7 627.1 L714.2 620.3 L715.8 622.8 L717.3 617.4 L721.5 645.5 L723.1 638.8 L724.6 641.5 L726.1 633.5 L727.6 634.2 L729.2 624.1 L730.7 623.7 L734.2 639.2 L735.7 638.2 L737.3 629.2 L738.8 627.6 L740.4 620.5 L741.9 617.4 L744.7 640.6 L748.2 621.6 L752.5 644.8 L757.4 623.0 L758.6 624.9 L759.8 632.1 L761.1 629.0 L762.3 635.0 L763.9 635.6 L765.5 644.4 L767.0 641.9 L768.6 647.6 L774.2 616.0 L775.7 618.6 L777.1 616.5 L778.5 619.9 L779.9 619.5 L781.4 623.1 L783.0 619.3 L784.5 623.3 L786.1 622.2 L787.4 626.9 L788.8 626.5 L790.1 630.2 L796.1 589.4 L802.1 633.5 L807.5 610.1 L808.8 614.4 L810.2 613.8 L811.5 618.2 L812.8 612.9 L814.2 615.2 L815.5 610.8 L818.2 630.2 L819.6 624.4 L821.1 625.6 L822.5 615.9 L823.9 617.3 L825.3 607.6 L826.8 607.2 L828.2 602.1 L833.5 632.9 L834.9 626.8 L836.2 626.9 L837.6 620.8 L839.1 624.2 L840.6 619.9 L842.1 625.1 L843.6 622.8 L845.2 628.3 L846.7 627.5 L848.3 632.2 L853.9 589.4 L859.0 633.5 L865.7 610.1 L867.2 616.0 L868.8 614.3 L870.3 618.2 L871.4 612.7 L872.6 614.7 L873.7 610.8 L877.0 631.5 L878.5 628.0 L880.0 626.5 L885.6 602.8 L889.0 638.8 L893.5 624.2 L899.1 643.3 L904.2 624.2 L908.1 643.3 L909.5 642.3 L910.8 647.1 L912.2 641.2 L913.5 646.1 L914.9 645.6 L917.1 631.0 L918.4 625.4 L919.6 626.4 L920.9 617.8 L922.2 617.5 L926.1 633.2 L928.3 620.8 L929.8 622.7 L931.3 629.8 L932.8 631.0 L934.0 629.8 L935.1 621.9 L936.2 622.0 L937.3 625.9 L938.5 633.2 L944.1 589.4 L946.3 628.7 L947.7 626.8 L949.1 633.2 L950.6 631.4 L952.0 634.3 L957.6 609.6 L961.0 623.1 L962.1 623.7 L963.2 632.1 L964.3 633.2 L968.8 618.6 L972.2 631.0 L973.3 629.2 L974.4 622.4 L975.6 622.0 L977.0 624.5 L978.5 632.4 L980.0 633.2 L982.7 607.8 L984.5 643.9 L985.8 643.4 L987.1 634.3 L988.4 636.5 L989.8 630.6 L990.8 636.7 L991.9 639.0 L993.3 642.3 L994.7 639.5 L996.1 645.9 L997.5 643.9 L1001.0 623.6 L1005.9 643.9 L1007.2 645.9 L1008.4 642.1 L1009.6 647.1 L1010.8 646.8 L1013.3 632.7 L1014.8 633.3 L1016.3 638.6 L1017.9 639.0 L1019.3 637.9 L1020.8 628.1 L1022.3 627.9 L1023.8 618.4 L1025.2 617.2 L1029.1 639.0 L1030.3 641.8 L1031.6 639.3 L1032.8 645.0 L1034.0 643.9 L1038.9 622.2 L1042.5 643.9 L1043.9 644.2 L1045.3 635.8 L1046.7 638.7 L1048.1 633.4 L1049.5 636.7 L1050.9 636.2 L1053.7 617.2 L1059.3 639.7 L1060.4 636.3 L1061.4 629.2 L1063.0 634.3 L1064.6 633.5 L1066.2 642.9 L1067.8 643.9 L1071.3 622.9 L1076.4 644.1 L1077.8 645.3 L1079.2 639.4 L1080.6 639.2 L1081.7 641.0 L1082.8 646.9 L1084.5 632.2 L1085.8 637.9 L1087.1 635.3 L1088.4 640.6 L1089.8 635.4 L1091.2 635.0 L1092.6 625.8 L1094.0 625.1 L1096.1 640.6 L1100.3 619.5 L1103.1 642.0 L1105.9 628.7 L1107.4 642.0 L1113.0 617.4 L1115.1 644.8 L1117.9 630.8 L1118.9 633.0 L1120.0 638.5 L1124.9 623.7 L1129.1 639.9 L1130.5 639.1 L1131.9 641.3 L1135.5 617.4 L1137.7 673.4 L1139.0 671.6 L1140.2 673.4 L1142.5 660.0 L1143.6 657.8 L1144.7 650.0 L1147.8 663.3 L1149.1 673.4 L1150.3 673.0 L1151.6 666.4 L1152.3 639.2 L1153.8 634.0 L1155.4 631.6 L1156.7 631.5 L1157.9 635.8 L1159.2 635.4 L1160.5 631.2 L1161.7 623.4 L1164.3 641.1 L1169.8 666.3 L1175.7 631.8 L1178.7 645.6 L1183.6 623.9 L1188.5 641.7 L1189.8 643.2 L1191.0 638.8 L1192.2 641.3 L1193.5 638.7 L1197.4 674.1 L1198.9 672.4 L1200.3 677.1 L1201.8 670.6 L1203.3 673.1 L1209.7 623.0 L1213.1 666.3 L1214.6 663.0 L1216.1 665.7 L1217.6 659.1 L1219.0 658.4 L1223.9 691.8 L1225.2 690.4 L1226.4 681.5 L1227.6 684.5 L1228.9 678.1 L1232.8 623.9 L1235.8 664.3 L1238.7 640.7 L1239.9 636.9 L1241.2 640.8 L1242.4 636.2 L1243.6 636.7 L1247.6 661.3 L1250.5 643.6 L1254.4 630.8 L1262.6 672.0 L1268.5 654.3 L1269.3 622.3 L1270.7 619.7 L1272.0 623.6 L1273.4 620.8 L1274.7 624.3 L1276.1 622.3 L1277.4 623.4 L1278.8 620.3 L1280.1 625.3 L1281.5 619.6 L1282.8 622.3 L1283.7 645.9 L1284.9 648.6 L1286.2 644.2 L1287.5 649.3 L1288.7 647.6 L1292.9 665.3 L1298.9 642.5 L1303.9 660.2 L1309.0 644.2 L1310.2 641.8 L1311.5 634.1 L1312.8 634.8 L1314.0 629.0 L1314.9 637.8 L1315.7 640.8 L1321.6 622.3 L1323.1 619.0 L1324.6 624.4 L1326.0 619.8 L1327.5 622.3 L1329.2 647.6 L1330.5 650.0 L1331.7 644.7 L1333.0 647.9 L1334.3 645.9 L1339.3 665.3 L1345.2 642.5 L1349.4 660.2 L1358.4 630.7 L1362.6 644.2 L1364.2 639.2 L1365.7 642.9 L1367.3 634.5 L1368.8 638.0 L1370.4 629.8 L1371.9 630.7 L1373.3 632.0 L1374.7 641.2 L1376.1 642.5 L1377.4 642.5 L1378.7 636.5 L1379.9 638.8 L1381.2 634.1 L1382.5 638.9 L1383.7 639.2 L1385.0 647.8 L1386.3 648.4 L1387.7 648.1 L1389.1 639.7 L1390.5 639.1 L1392.0 640.9 L1393.4 648.0 L1394.9 647.1 L1396.4 652.6 L1404.0 624.0 L1405.7 639.1 L1406.9 634.9 L1408.2 637.8 L1409.5 631.4 L1410.7 632.4 L1412.1 625.7 L1413.5 627.1 L1414.9 622.3 L1416.2 629.1 L1417.5 630.7 L1418.7 635.8 L1420.0 633.0 L1421.3 639.3 L1422.5 639.1 L1425.9 620.6 L1427.2 617.5 L1428.6 622.4 L1429.9 619.3 L1431.3 623.3 L1432.6 622.3 L1434.3 634.9 L1435.6 634.3 L1436.9 642.9 L1438.1 639.6 L1439.4 644.2 L1440.5 639.6 L1441.6 639.9 L1442.8 634.1 L1444.2 635.8 L1445.7 629.9 L1447.1 634.3 L1448.6 628.8 L1450.1 630.7 L1451.5 631.3 L1452.9 640.3 L1454.3 641.7 L1455.7 640.6 L1457.1 632.1 L1458.5 632.4 L1463.6 647.6 L1465.0 646.6 L1466.4 639.8 L1467.8 640.0 L1469.2 641.2 L1470.7 649.2 L1472.2 648.2 L1473.7 652.6 L1474.8 646.4 L1475.9 648.9 L1477.0 644.2 L1481.3 624.8 L1482.4 627.3 L1483.5 633.8 L1484.6 635.8 L1486.0 635.5 L1487.4 630.2 L1488.9 631.1 L1490.3 624.7 L1491.7 627.3 L1493.1 622.3 L1494.3 630.1 L1495.6 634.1 L1497.0 636.3 L1498.4 633.7 L1499.8 635.8 L1504.0 620.6 L1505.3 626.8 L1506.6 624.0 L1507.8 633.0 L1509.1 634.1 L1510.6 638.0 L1512.0 635.7 L1513.5 643.0 L1515.0 643.4 L1516.5 642.2 L1517.9 636.6 L1519.4 638.1 L1520.9 632.4 L1522.2 632.9 L1523.4 624.8 L1524.7 627.0 L1526.0 622.3 L1527.2 625.1 L1528.5 621.6 L1529.8 627.0 L1531.0 624.0 L1535.2 643.4 L1536.5 639.6 L1537.8 642.2 L1539.0 634.6 L1540.3 635.8 L1541.9 630.8 L1543.5 634.0 L1545.1 629.9 L1546.5 634.8 L1548.0 633.8 L1549.5 640.7 L1551.0 642.5 L1552.4 642.5 L1553.8 634.5 L1555.2 633.2 L1559.4 647.6 L1560.7 648.6 L1561.9 641.7 L1563.2 643.2 L1564.5 639.1 L1565.9 643.9 L1567.4 643.4 L1568.9 650.1 L1570.4 651.8 L1576.3 624.0 L1577.5 625.9 L1578.8 632.7 L1580.1 631.1 L1581.3 635.8 L1582.8 631.5 L1584.4 632.1 L1585.9 625.5 L1587.4 627.1 L1588.9 622.3 L1590.3 627.7 L1591.7 625.3 L1593.1 632.6 L1594.5 630.2 L1595.9 639.5 L1597.3 639.1 L1599.0 620.6 L1604.9 644.2 L1606.2 642.0 L1607.5 634.4 L1608.7 637.4 L1610.0 630.7 L1611.1 637.3 L1612.2 636.7 L1613.4 641.7 L1618.4 618.1 L1623.5 642.5 L1625.0 637.8 L1626.4 641.7 L1627.9 636.4 L1629.4 635.8 L1630.7 632.6 L1632.1 634.8 L1633.4 626.6 L1634.8 628.6 L1636.1 624.8 L1641.0 644.2 L1642.4 643.4 L1643.9 646.4 L1645.4 643.9 L1646.9 645.9 L1649.4 632.4 L1653.6 650.1 L1655.1 650.8 L1656.6 659.1 L1658.0 659.5 L1659.5 664.4 L1664.6 630.7 L1670.5 660.2 L1673.9 635.8 L1675.1 636.9 L1676.4 628.6 L1677.6 630.9 L1678.9 627.3 L1679.8 649.3 L1684.8 630.7 L1686.2 637.6 L1687.6 635.5 L1689.0 641.7 L1693.2 622.3 L1695.8 641.7 L1698.3 623.1 L1700.0 644.2 L1701.4 637.3 L1702.8 639.0 L1704.2 632.4 L1705.6 639.6 L1707.0 637.3 L1708.4 644.2 L1710.5 617.2" fill="none" stroke="#a0a0a0" stroke-width="6.0" stroke-linejoin="round" stroke-linecap="round" shape-rendering="crispEdges"/>
<text transform="translate(290.03 142.17) scale(0.9904 1.0327)" style="font-weight:normal;font-size:62px">Co(Ti)O</text>
<text transform="translate(289.73 218.53) scale(0.9858 1.0364)" style="font-weight:normal;font-size:62px">H-ATP/Co(Ti)O-30%</text>
<text transform="translate(289.92 295.10) scale(0.9893 1.0550)" style="font-weight:normal;font-size:62px">H-ATP</text>
<text transform="translate(965.95 736.16) scale(0.9841 1.0566)" style="font-weight:normal;font-size:62px">g=2.007</text>
<text transform="translate(793.72 1386.83) scale(1.0140 1.0182)" style="font-weight:bold;font-size:72px">g-factor</text>
<text transform="translate(82.25 908.72) scale(0.9904 1.0064) rotate(-90)" style="font-weight:bold;font-size:74px">Intensity (a.u.)</text>
<text transform="translate(58.79 1301.00) scale(1.0017 1.0522)" style="font-weight:bold;font-size:70px">1.98</text>
<text transform="translate(376.89 1301.00) scale(1.0017 1.0522)" style="font-weight:bold;font-size:70px">1.99</text>
<text transform="translate(693.89 1301.00) scale(1.0017 1.0522)" style="font-weight:bold;font-size:70px">2.00</text>
<text transform="translate(1012.89 1301.00) scale(1.0017 1.0522)" style="font-weight:bold;font-size:70px">2.01</text>
<text transform="translate(1330.79 1301.00) scale(1.0017 1.0522)" style="font-weight:bold;font-size:70px">2.02</text>
<text transform="translate(1648.99 1301.00) scale(1.0017 1.0522)" style="font-weight:bold;font-size:70px">2.03</text>
<line x1="147" y1="125.0" x2="277.8" y2="125.0" stroke="#0368b1" stroke-width="6"/><circle cx="147" cy="125.0" r="3" fill="#0368b1"/>
<line x1="147" y1="200.7" x2="277.8" y2="200.7" stroke="#fd8417" stroke-width="6"/><circle cx="147" cy="200.7" r="3" fill="#fd8417"/>
<line x1="147" y1="277.0" x2="277.8" y2="277.0" stroke="#a0a0a0" stroke-width="6"/><circle cx="147" cy="277.0" r="3" fill="#a0a0a0"/></svg>
</body></html>
